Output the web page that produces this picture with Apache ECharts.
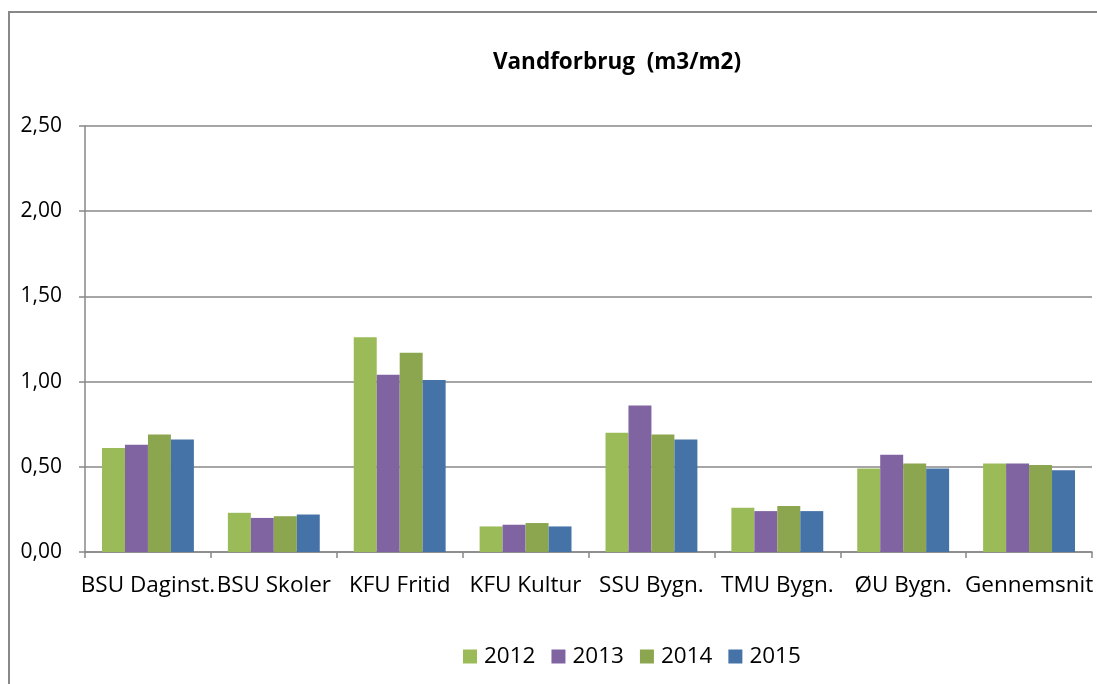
<!DOCTYPE html>
<html lang="da">
<head>
<meta charset="UTF-8">
<title>Vandforbrug</title>
<style>
  html, body { margin: 0; padding: 0; background: #fff; }
  #chart { width: 1097px; height: 684px; }
</style>
</head>
<body>
<div id="chart"></div>
<script src="https://cdn.jsdelivr.net/npm/echarts@6/dist/echarts.min.js"></script>
<script>
var categories = ['BSU Daginst.', 'BSU Skoler', 'KFU Fritid', 'KFU Kultur', 'SSU Bygn.', 'TMU Bygn.', '\u00D8U Bygn.', 'Gennemsnit'];
var years = ['2012', '2013', '2014', '2015'];
var v2012 = [0.61, 0.23, 1.26, 0.15, 0.70, 0.26, 0.49, 0.52];
var v2013 = [0.63, 0.20, 1.04, 0.16, 0.86, 0.24, 0.57, 0.52];
var v2014 = [0.69, 0.21, 1.17, 0.17, 0.69, 0.27, 0.52, 0.51];
var v2015 = [0.66, 0.22, 1.01, 0.15, 0.66, 0.24, 0.49, 0.48];
var colors = ['#9BBB59', '#8064A2', '#8BA64F', '#4572A7'];

var font = '"Open Sans", sans-serif';
var grey = '#888888';

var chart = echarts.init(document.getElementById('chart'));
var seriesData = [v2012, v2013, v2014, v2015];

chart.setOption({
  animation: false,
  color: colors,
  textStyle: { fontFamily: font },
  title: {
    text: 'Vandforbrug  (m3/m2)',
    left: 612, top: 46, textAlign: 'center',
    textStyle: { fontSize: 22.5, fontWeight: 'bold', color: '#000', fontFamily: font }
  },
  graphic: [{
    type: 'rect',
    shape: { x: 9, y: 12, width: 1110, height: 700 },
    style: { fill: 'none', stroke: grey, lineWidth: 2 },
    silent: true
  }],
  legend: {
    data: years,
    left: 458, top: 640,
    itemWidth: 14, itemHeight: 14, itemGap: 16,
    icon: 'rect',
    textStyle: { fontSize: 22.5, color: '#000', fontFamily: font, padding: [0, 0, 0, 2] }
  },
  grid: { left: 85, right: 5, top: 126, bottom: 132, containLabel: false },
  xAxis: {
    type: 'category',
    data: categories,
    axisLine: { lineStyle: { color: grey, width: 1.5 } },
    axisTick: { show: true, length: 6, inside: false, lineStyle: { color: grey, width: 1.5 } },
    axisLabel: { interval: 0, margin: 22, fontSize: 22.5, color: '#000', fontFamily: font }
  },
  yAxis: {
    type: 'value',
    min: 0, max: 2.5, interval: 0.5,
    axisLine: { show: true, lineStyle: { color: grey, width: 1.5 } },
    axisTick: { show: true, length: 6, lineStyle: { color: grey, width: 1.5 } },
    splitLine: { lineStyle: { color: grey, width: 1.5 } },
    axisLabel: {
      margin: 23, fontSize: 21, color: '#000', fontFamily: font,
      formatter: function (v) { return v.toFixed(2).replace('.', ','); }
    }
  },
  series: years.map(function (y, i) {
    return {
      name: y,
      type: 'bar',
      data: seriesData[i],
      barGap: '0%',
      barCategoryGap: '27%',
      itemStyle: { color: colors[i] }
    };
  })
});
</script>
</body>
</html>
